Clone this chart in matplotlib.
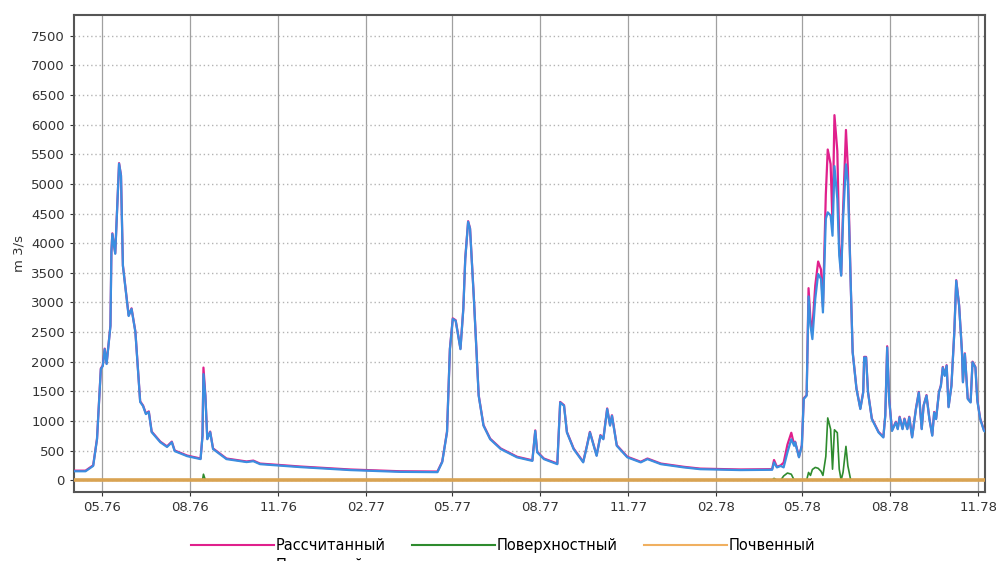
import numpy as np
import pandas as pd
import matplotlib
matplotlib.use("Agg")
import matplotlib.pyplot as plt
import matplotlib.dates as mdates
from matplotlib.lines import Line2D

# daily discharge record, days counted from 1 April 1976
start = pd.Timestamp("1976-04-01")

day = [0, 13, 21, 25, 29, 31, 33, 35, 39, 40, 41, 44, 46, 48, 50, 52, 56, 58, 61, 65,
       70, 73, 76, 79, 82, 91, 98, 103, 106, 119, 133, 135, 136, 138, 140, 143, 146, 160, 181, 188,
       195, 237, 289, 341, 380, 385, 390, 393, 396, 399, 404, 407, 409, 412, 414, 418, 423, 428, 435, 446,
       463, 479, 482, 484, 491, 505, 508, 512, 515, 522, 532, 536, 539, 543, 546, 550, 553, 557, 560, 562,
       567, 578, 592, 599, 613, 637, 654, 696, 729, 731, 734, 738, 741, 745, 749, 752, 753, 757, 760, 762,
       765, 767, 769, 771, 774, 777, 780, 782, 785, 787, 790, 792, 794, 797, 799, 801, 803, 806, 808, 811,
       813, 817, 821, 824, 825, 827, 829, 833, 840, 845, 847, 849, 851, 854, 858, 860, 862, 865, 867, 870,
       872, 875, 879, 882, 885, 887, 890, 893, 896, 898, 900, 903, 905, 907, 909, 911, 913, 916, 919, 921,
       924, 927, 928, 930, 933, 936, 938, 941, 943, 946, 950, 953]

# underground (baseflow) component, m3/s
underground = [150, 150, 240, 690, 1875, 1925, 2210, 1960, 2600, 3850, 4155, 3820, 4580, 5340, 5135, 3615, 3060, 2770, 2890, 2500,
               1320, 1250, 1115, 1150, 810, 640, 560, 640, 490, 405, 355, 745, 1790, 1420, 690, 810, 525, 355, 305, 320,
               270, 220, 170, 140, 135, 305, 810, 2210, 2720, 2690, 2210, 2890, 3730, 4360, 4240, 3060, 1425, 920, 690, 525,
               385, 325, 830, 470, 355, 270, 1310, 1255, 805, 525, 300, 580, 805, 580, 410, 750, 690, 1200, 920, 1085,
               580, 385, 300, 355, 270, 215, 185, 170, 175, 300, 215, 240, 215, 470, 690, 580, 640, 385, 580, 1370,
               1425, 3100, 2605, 2380, 3060, 3480, 3395, 2830, 4410, 4520, 4465, 4125, 5300, 4745, 3790, 3450, 4410, 5330, 5025, 3280,
               2155, 1535, 1200, 1480, 2070, 2070, 1480, 1030, 805, 720, 1085, 2240, 1370, 830, 975, 860, 1060, 860, 1030, 860,
               1060, 720, 1200, 1480, 860, 1255, 1425, 1030, 750, 1140, 1030, 1480, 1590, 1900, 1760, 1930, 1230, 1590, 2495, 3365,
               2945, 2155, 1650, 2130, 1370, 1310, 1990, 1900, 1340, 1030, 830, 805]

# surface runoff component, m3/s
surface = [0, 0, 0, 0, 0, 0, 0, 0, 0, 0, 0, 0, 0, 0, 0, 0, 0, 0, 0, 0,
           0, 0, 0, 0, 0, 0, 0, 0, 0, 0, 0, 0, 100, 0, 0, 0, 0, 0, 0, 0,
           0, 0, 0, 0, 0, 0, 0, 0, 0, 0, 0, 0, 0, 0, 0, 0, 0, 0, 0, 0,
           0, 0, 0, 0, 0, 0, 0, 0, 0, 0, 0, 0, 0, 0, 0, 0, 0, 0, 0, 0,
           0, 0, 0, 0, 0, 0, 0, 0, 0, 30, 0, 0, 70, 120, 100, 0, 0, 0, 0, 0,
           0, 130, 80, 180, 215, 200, 150, 80, 400, 1050, 860, 185, 850, 800, 185, 0, 135, 570, 240, 0,
           0, 0, 0, 0, 0, 0, 0, 0, 0, 0, 0, 10, 0, 0, 0, 0, 0, 0, 0, 0,
           0, 0, 0, 0, 0, 0, 0, 0, 0, 0, 0, 0, 0, 0, 0, 0, 0, 0, 0, 0,
           0, 0, 0, 0, 0, 0, 0, 0, 0, 0, 0, 0]

# soil flow stays almost flat near zero
soil_day = [0, 953]
soil = [10, 10]

dates = start + pd.to_timedelta(day, unit="D")
soil_dates = start + pd.to_timedelta(soil_day, unit="D")
total = np.array(underground) + np.array(surface) + soil[0]

c_total, c_surf, c_soil, c_under = "#e0208c", "#2e8b2e", "#d9a352", "#3b8ee0"

fig = plt.figure(figsize=(9.96, 5.61), dpi=100)
ax = fig.add_axes([74 / 996, 1 - 492 / 561, (985 - 74) / 996, (492 - 15) / 561])

ax.plot(dates, total, color=c_total, lw=1.6, zorder=3)
ax.plot(dates, surface, color=c_surf, lw=1.2, zorder=3)
ax.plot(soil_dates, soil, color=c_soil, lw=2.6, zorder=4)
ax.plot(dates, underground, color=c_under, lw=1.6, zorder=5)

ax.set_xlim(start + pd.Timedelta(days=1), start + pd.Timedelta(days=951))
ax.set_ylim(-200, 7850)
ax.set_yticks(np.arange(0, 7501, 500))
ax.xaxis.set_major_locator(mdates.MonthLocator(bymonth=[2, 5, 8, 11]))
ax.xaxis.set_major_formatter(mdates.DateFormatter("%m.%y"))

ax.grid(axis="x", color="#a0a0a0", lw=0.9, ls="-")
ax.grid(axis="y", color="#b4b4b4", lw=1.0, ls=(0, (1, 2)))
ax.tick_params(labelsize=9.5, colors="#333333", length=3)
for s in ax.spines.values():
    s.set_color("#555555")
    s.set_linewidth(1.5)
ax.set_ylabel("m 3/s", fontsize=9.5, color="#333333", labelpad=4)

# legend sits under the plot, its second row runs off the bottom edge
# (legend fills column by column, so the fourth entry lands under the first)
handles = [Line2D([], [], color=c, lw=1.5) for c in (c_total, c_under, c_surf, "#f0b060")]
fig.legend(handles, ["Рассчитанный", "Подземный", "Поверхностный", "Почвенный"],
           loc="upper left", bbox_to_anchor=(178 / 996, 1 - 525 / 561), ncol=3,
           frameon=False, fontsize=10.5, handlelength=5.7, handletextpad=0.1,
           columnspacing=1.8, labelspacing=0.25)

fig.savefig("out.png", dpi=100)
